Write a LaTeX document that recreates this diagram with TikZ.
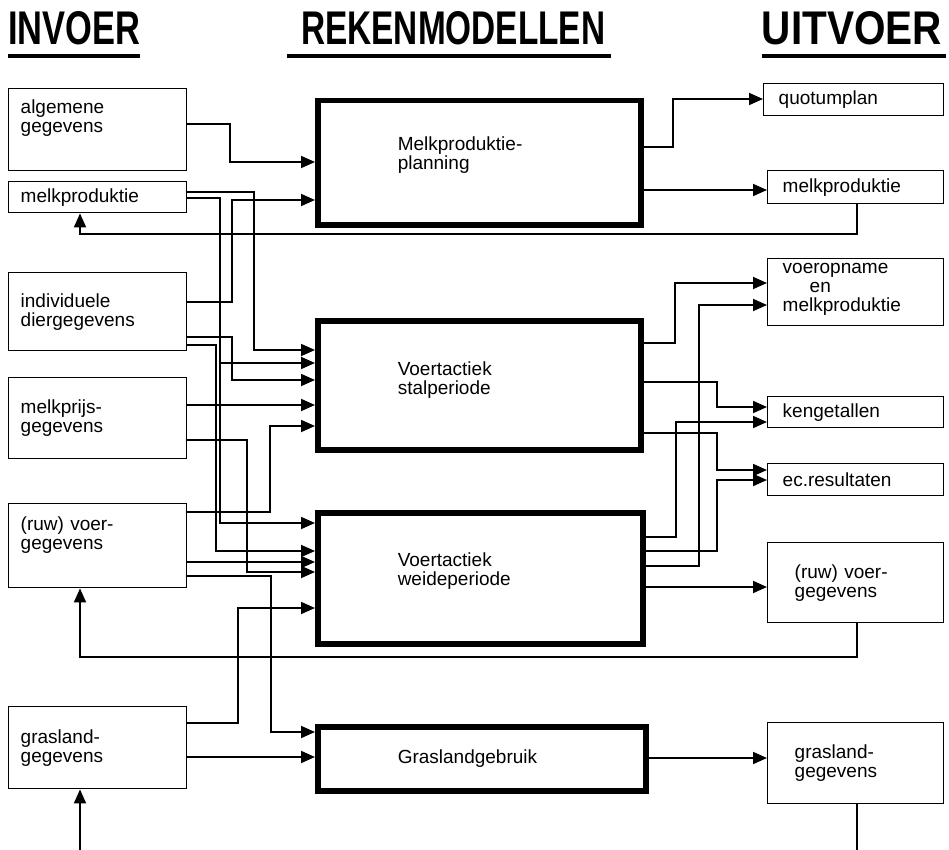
\documentclass[tikz,border=0pt]{standalone}
\usepackage{fontspec}
\setmainfont{Liberation Sans}
\usetikzlibrary{arrows.meta}

\begin{document}
\begin{tikzpicture}[x=1pt,y=-1pt,
    tekst/.style={font=\fontsize{19}{19}\selectfont},
    inbox/.style={tekst,draw,line width=1.4pt,align=left,anchor=north west,
        text width=154pt,inner xsep=12pt,inner ysep=0pt},
    outbox/.style={inbox,text width=146pt,inner xsep=15pt},
    modelbox/.style={tekst,draw,line width=5.5pt,align=left,anchor=north west,
        text width=163pt,inner xsep=80pt,inner ysep=0pt},
    kop/.style={font=\bfseries,inner sep=0pt,anchor=base west},
    onderstreep/.style={line width=4pt},
    lijn/.style={line width=1.8pt},
    pijl/.style={lijn,-{Triangle[length=14pt,width=12pt]}}]

    \useasboundingbox (0,0) rectangle (949,850);

    % koppen
    \node[kop] (hin) at (8,45) {\resizebox{132pt}{33pt}{INVOER}};
    \node[kop] (hrek) at (301,45) {\resizebox{304pt}{33pt}{REKENMODELLEN}};
    \node[kop,anchor=base east] (huit) at (942,45) {\resizebox{180pt}{33pt}{UITVOER}};
    \draw[onderstreep] ([yshift=-11pt]hin.base west) -- ([yshift=-11pt]hin.base east);
    \draw[onderstreep] ([yshift=-11pt,xshift=-14pt]hrek.base west) -- ([yshift=-11pt,xshift=6pt]hrek.base east);
    \draw[onderstreep] ([yshift=-11pt]huit.base west) -- ([yshift=-11pt,xshift=4pt]huit.base east);

    % invoer
    \node[inbox,minimum height=82pt] (alg) at (8,88) {algemene\\gegevens\\[8pt]~};
    \node[inbox,minimum height=31pt] (mpi) at (8,181) {melkproduktie};
    \node[inbox,minimum height=78pt] (ind) at (8,272) {individuele\\diergegevens};
    \node[inbox,minimum height=81pt] (mpr) at (8,377) {melkprijs-\\gegevens};
    \node[inbox,minimum height=84pt] (rvi) at (8,503) {(ruw) voer-\\gegevens\\[6pt]~};
    \node[inbox,minimum height=82pt] (gri) at (8,706) {grasland-\\gegevens};

    % rekenmodellen
    \node[modelbox,minimum height=124pt] (plan) at (315,98) {Melkproduktie-\\planning\\~};
    \node[modelbox,minimum height=129pt] (stal) at (315,318) {Voertactiek\\stalperiode\\[-4pt]~};
    \node[modelbox,minimum height=131pt,text width=165pt] (weide) at (315,510) {Voertactiek\\weideperiode\\~};
    \node[modelbox,minimum height=64pt,text width=168pt] (gras) at (315,724) {Graslandgebruik};

    % uitvoer
    \node[outbox,minimum height=32pt,text width=150pt] (quo) at (763,83) {quotumplan};
    \node[outbox,minimum height=33pt] (mpo) at (767,170) {melkproduktie};
    \node[outbox,minimum height=67pt] (voe) at (767,258) {voeropname\\\hspace*{27pt}en\\melkproduktie\\[-9pt]~};
    \node[outbox,minimum height=31pt] (ken) at (767,396) {kengetallen};
    \node[outbox,minimum height=32pt] (ec) at (767,463) {ec.resultaten};
    \node[outbox,minimum height=80pt,text width=122pt,inner xsep=27pt] (rvo) at (767,542) {(ruw) voer-\\gegevens};
    \node[outbox,minimum height=81pt,text width=122pt,inner xsep=27pt] (gro) at (767,722) {grasland-\\gegevens};

    % invoer naar modellen
    \draw[pijl] (alg.east |- 0,124) -| (230,162) -- (plan.west |- 0,162);
    \draw[pijl] (mpi.east |- 0,192) -| (254,350) -- (stal.west |- 0,350);
    \draw[pijl] (mpi.east |- 0,198) -| (220,523) -- (weide.west |- 0,523);
    \draw[pijl] (220,363) -- (stal.west |- 0,363);
    \draw[pijl] (ind.east |- 0,302) -| (232,200) -- (plan.west |- 0,200);
    \draw[pijl] (ind.east |- 0,337) -| (232,380) -- (stal.west |- 0,380);
    \draw[pijl] (ind.east |- 0,345) -| (216,551) -- (weide.west |- 0,551);
    \draw[pijl] (mpr.east |- 0,405) -- (stal.west |- 0,405);
    \draw[pijl] (mpr.east |- 0,440) -| (247,572) -- (weide.west |- 0,572);
    \draw[pijl] (rvi.east |- 0,512) -| (270,426) -- (stal.west |- 0,426);
    \draw[pijl] (rvi.east |- 0,562) -- (weide.west |- 0,562);
    \draw[pijl] (rvi.east |- 0,576) -| (271,732) -- (gras.west |- 0,732);
    \draw[pijl] (gri.east |- 0,723) -| (238,608) -- (weide.west |- 0,608);
    \draw[pijl] (gri.east |- 0,757) -- (gras.west |- 0,757);

    % modellen naar uitvoer
    \draw[pijl] (plan.east |- 0,147) -| (673,99) -- (quo.west |- 0,99);
    \draw[pijl] (plan.east |- 0,190) -- (mpo.west |- 0,190);
    \draw[pijl] (stal.east |- 0,343) -| (675,283) -- (voe.west |- 0,283);
    \draw[pijl] (stal.east |- 0,382) -| (717,407) -- (ken.west |- 0,407);
    \draw[pijl] (stal.east |- 0,433) -| (717,470) -- (ec.west |- 0,470);
    \draw[pijl] (weide.east |- 0,566) -| (699,305) -- (voe.west |- 0,305);
    \draw[pijl] (weide.east |- 0,537) -| (676,422) -- (ken.west |- 0,422);
    \draw[pijl] (weide.east |- 0,551) -| (717,480) -- (ec.west |- 0,480);
    \draw[pijl] (weide.east |- 0,587) -- (rvo.west |- 0,587);
    \draw[pijl] (gras.east |- 0,758) -- (gro.west |- 0,758);

    % terugkoppeling
    \draw[pijl] (mpo.south -| 857,0) -- (857,234) -| (mpi.south -| 80,0);
    \draw[pijl] (rvo.south -| 857,0) -- (857,657) -| (rvi.south -| 80,0);
    \draw[pijl] (80,850) -- (gri.south -| 80,0);
    \draw[lijn] (gro.south -| 857,0) -- (857,850);

\end{tikzpicture}
\end{document}
